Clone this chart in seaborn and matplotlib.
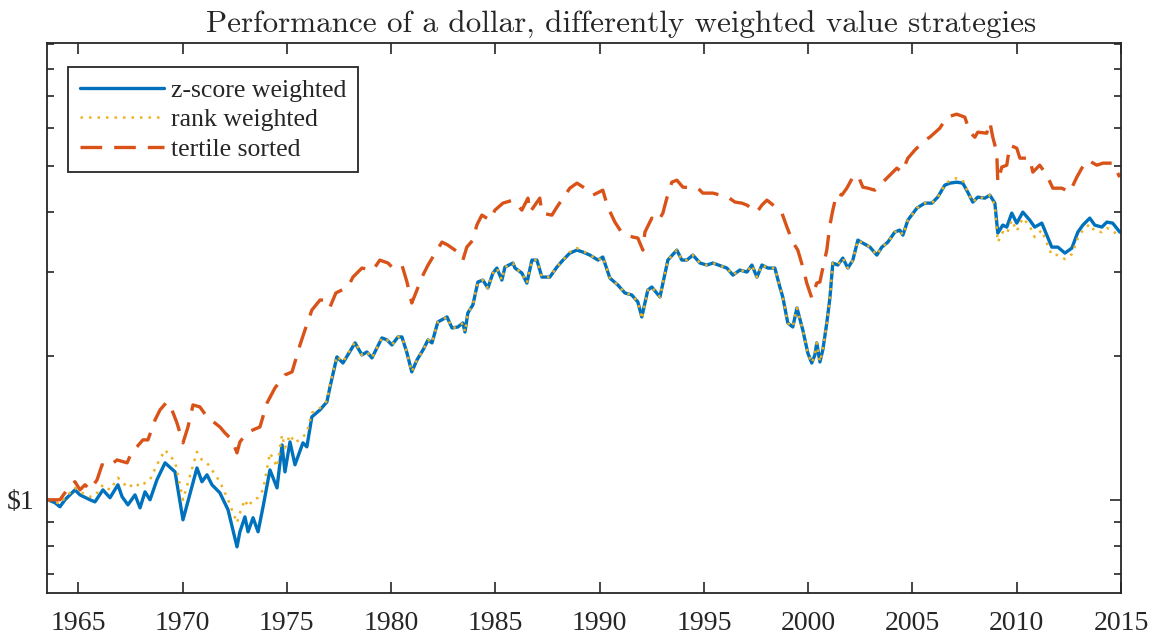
import numpy as np
import matplotlib
matplotlib.use('Agg')
import matplotlib.pyplot as plt
import seaborn as sns
from matplotlib.ticker import LogLocator, NullFormatter, NullLocator

# growth of $1 (log scale)
years = [
    1963.55, 1963.88, 1964.12, 1964.36, 1964.84, 1965.08, 1965.56, 1965.80, 1966.18, 1966.52,
    1966.90, 1967.10, 1967.38, 1967.72, 1967.96, 1968.20, 1968.44, 1968.77, 1969.16, 1969.64,
    1970.02, 1970.69, 1970.93, 1971.17, 1971.41, 1971.79, 1972.18, 1972.61, 1972.75, 1972.99,
    1973.14, 1973.38, 1973.62, 1973.86, 1974.19, 1974.53, 1974.77, 1974.91, 1975.15, 1975.39,
    1975.77, 1975.96, 1976.20, 1976.59, 1976.92, 1977.07, 1977.40, 1977.69, 1978.27, 1978.60,
    1978.84, 1979.08, 1979.56, 1979.80, 1980.04, 1980.33, 1980.52, 1980.76, 1980.99, 1981.24,
    1981.53, 1981.77, 1981.96, 1982.24, 1982.68, 1982.92, 1983.20, 1983.44, 1983.54, 1983.68,
    1983.92, 1984.16, 1984.40, 1984.64, 1984.88, 1985.07, 1985.31, 1985.46, 1985.84, 1985.94,
    1986.27, 1986.51, 1986.75, 1986.99, 1987.23, 1987.61, 1987.95, 1988.24, 1988.57, 1988.91,
    1989.20, 1989.53, 1989.92, 1990.15, 1990.49, 1990.87, 1991.21, 1991.54, 1991.83, 1992.02,
    1992.31, 1992.50, 1992.89, 1993.27, 1993.70, 1993.94, 1994.18, 1994.47, 1994.81, 1995.14,
    1995.43, 1996.10, 1996.39, 1996.72, 1997.06, 1997.30, 1997.54, 1997.78, 1998.07, 1998.40,
    1998.64, 1998.78, 1999.02, 1999.26, 1999.46, 1999.74, 1999.98, 2000.17, 2000.32, 2000.41,
    2000.56, 2000.70, 2000.89, 2001.04, 2001.18, 2001.42, 2001.66, 2001.90, 2002.14, 2002.38,
    2002.62, 2002.96, 2003.29, 2003.53, 2003.82, 2004.15, 2004.39, 2004.54, 2004.78, 2005.21,
    2005.59, 2005.93, 2006.21, 2006.55, 2006.79, 2007.12, 2007.41, 2007.65, 2007.89, 2008.13,
    2008.47, 2008.71, 2008.95, 2009.09, 2009.33, 2009.52, 2009.76, 2010.00, 2010.29, 2010.62,
    2010.86, 2011.20, 2011.44, 2011.68, 2011.97, 2012.31, 2012.64, 2012.93, 2013.17, 2013.50,
    2013.74, 2014.08, 2014.32, 2014.60, 2014.94,
]

z_score = [
    1.000, 0.986, 0.967, 1.000, 1.049, 1.024, 1.000, 0.990, 1.049, 1.010,
    1.075, 1.015, 0.976, 1.024, 0.962, 1.039, 1.000, 1.101, 1.195, 1.144,
    0.908, 1.166, 1.091, 1.128, 1.075, 1.034, 0.953, 0.797, 0.857, 0.921,
    0.857, 0.917, 0.857, 0.967, 1.155, 1.059, 1.303, 1.144, 1.322, 1.184,
    1.316, 1.291, 1.492, 1.543, 1.603, 1.723, 1.992, 1.934, 2.131, 2.011,
    2.040, 1.982, 2.183, 2.162, 2.110, 2.193, 2.193, 2.030, 1.853, 1.963,
    2.060, 2.162, 2.131, 2.357, 2.415, 2.290, 2.301, 2.346, 2.246, 2.462,
    2.559, 2.858, 2.885, 2.777, 2.984, 3.057, 2.885, 3.072, 3.132, 3.057,
    2.984, 2.844, 3.177, 3.177, 2.927, 2.927, 3.072, 3.177, 3.286, 3.334,
    3.302, 3.255, 3.177, 3.224, 2.913, 2.818, 2.711, 2.685, 2.596, 2.415,
    2.750, 2.790, 2.659, 3.177, 3.334, 3.177, 3.177, 3.255, 3.132, 3.102,
    3.132, 3.057, 2.955, 3.028, 2.999, 3.102, 2.927, 3.102, 3.057, 3.057,
    2.790, 2.659, 2.346, 2.301, 2.522, 2.268, 2.030, 1.934, 2.011, 2.131,
    1.944, 2.060, 2.346, 2.647, 3.132, 3.102, 3.208, 3.057, 3.177, 3.498,
    3.448, 3.382, 3.255, 3.382, 3.465, 3.636, 3.671, 3.584, 3.853, 4.082,
    4.181, 4.181, 4.304, 4.560, 4.604, 4.626, 4.604, 4.409, 4.202, 4.304,
    4.283, 4.346, 4.181, 3.619, 3.761, 3.725, 3.985, 3.797, 4.004, 3.853,
    3.725, 3.797, 3.584, 3.382, 3.382, 3.286, 3.366, 3.636, 3.761, 3.890,
    3.761, 3.725, 3.816, 3.797, 3.636,
]

rank_weighted = [
    1.000, 0.990, 0.981, 1.010, 1.059, 1.039, 1.015, 1.019, 1.075, 1.049,
    1.112, 1.091, 1.059, 1.085, 1.065, 1.085, 1.101, 1.184, 1.272, 1.201,
    1.000, 1.260, 1.212, 1.195, 1.155, 1.091, 1.000, 0.895, 0.939, 1.000,
    0.967, 1.000, 1.010, 1.049, 1.254, 1.172, 1.368, 1.285, 1.368, 1.316,
    1.355, 1.381, 1.521, 1.557, 1.611, 1.740, 2.001, 1.944, 2.141, 2.011,
    2.040, 1.982, 2.183, 2.162, 2.110, 2.193, 2.193, 2.030, 1.853, 1.963,
    2.060, 2.162, 2.131, 2.357, 2.415, 2.290, 2.301, 2.346, 2.246, 2.462,
    2.559, 2.858, 2.885, 2.777, 2.984, 3.057, 2.885, 3.072, 3.132, 3.057,
    2.984, 2.844, 3.177, 3.177, 2.927, 2.927, 3.072, 3.177, 3.302, 3.366,
    3.318, 3.255, 3.177, 3.224, 2.913, 2.818, 2.711, 2.685, 2.596, 2.391,
    2.750, 2.790, 2.659, 3.177, 3.334, 3.177, 3.177, 3.255, 3.132, 3.102,
    3.132, 3.057, 2.955, 3.028, 2.999, 3.102, 2.927, 3.102, 3.057, 3.057,
    2.790, 2.659, 2.346, 2.301, 2.522, 2.268, 2.030, 1.934, 2.011, 2.131,
    1.944, 2.060, 2.346, 2.647, 3.132, 3.102, 3.208, 3.057, 3.177, 3.498,
    3.448, 3.382, 3.255, 3.382, 3.465, 3.636, 3.671, 3.584, 3.853, 4.082,
    4.181, 4.181, 4.304, 4.560, 4.671, 4.716, 4.671, 4.409, 4.202, 4.304,
    4.283, 4.346, 4.142, 3.465, 3.636, 3.601, 3.853, 3.654, 3.890, 3.743,
    3.549, 3.671, 3.448, 3.255, 3.255, 3.193, 3.270, 3.533, 3.671, 3.779,
    3.654, 3.636, 3.707, 3.671, 3.533,
]

tert_years = [
    1963.55, 1964.12, 1964.46, 1964.84, 1965.08, 1965.32, 1965.56, 1965.90, 1966.14, 1966.42,
    1966.86, 1967.34, 1967.57, 1967.81, 1968.10, 1968.34, 1968.68, 1968.92, 1969.25, 1969.49,
    1969.73, 1970.02, 1970.26, 1970.50, 1970.83, 1971.17, 1971.79, 1972.03, 1972.37, 1972.61,
    1972.75, 1973.09, 1973.38, 1973.71, 1974.05, 1974.43, 1974.91, 1975.25, 1975.63, 1975.87,
    1976.20, 1976.59, 1976.92, 1977.07, 1977.35, 1977.93, 1978.17, 1978.60, 1979.13, 1979.46,
    1979.85, 1980.04, 1980.52, 1980.76, 1980.99, 1981.24, 1981.48, 1981.77, 1982.20, 1982.44,
    1982.72, 1983.20, 1983.44, 1983.63, 1983.92, 1984.11, 1984.35, 1984.74, 1984.98, 1985.36,
    1985.84, 1986.27, 1986.56, 1986.66, 1987.13, 1987.23, 1987.71, 1987.95, 1988.24, 1988.57,
    1988.91, 1989.44, 1989.68, 1990.15, 1990.39, 1990.73, 1991.07, 1991.60, 1991.83, 1992.07,
    1992.17, 1992.50, 1992.79, 1993.03, 1993.22, 1993.46, 1993.70, 1993.99, 1994.71, 1994.95,
    1995.43, 1996.15, 1996.49, 1996.82, 1997.06, 1997.54, 1997.78, 1998.02, 1998.50, 1998.74,
    1998.98, 1999.26, 1999.50, 1999.74, 1999.93, 2000.17, 2000.41, 2000.56, 2000.70, 2000.89,
    2001.04, 2001.18, 2001.37, 2001.61, 2001.85, 2002.14, 2002.38, 2002.62, 2002.86, 2003.19,
    2003.53, 2004.01, 2004.25, 2004.49, 2004.78, 2005.11, 2005.59, 2005.83, 2006.31, 2006.65,
    2007.12, 2007.51, 2007.75, 2007.99, 2008.13, 2008.56, 2008.71, 2008.85, 2009.04, 2009.09,
    2009.28, 2009.52, 2009.67, 2010.00, 2010.15, 2010.62, 2010.77, 2011.10, 2011.44, 2011.73,
    2012.16, 2012.54, 2012.88, 2013.12, 2013.41, 2013.84, 2014.13, 2014.60, 2014.94,
]

tertile = [
    1.000, 1.000, 1.049, 1.091, 1.049, 1.075, 1.049, 1.101, 1.184, 1.172,
    1.212, 1.195, 1.260, 1.291, 1.335, 1.335, 1.470, 1.543, 1.603, 1.543,
    1.449, 1.316, 1.421, 1.580, 1.565, 1.492, 1.421, 1.381, 1.335, 1.254,
    1.322, 1.381, 1.401, 1.421, 1.595, 1.715, 1.826, 1.853, 2.110, 2.268,
    2.497, 2.620, 2.620, 2.534, 2.711, 2.790, 2.927, 3.057, 3.028, 3.177,
    3.132, 3.072, 3.102, 2.858, 2.583, 2.750, 2.927, 3.102, 3.334, 3.465,
    3.415, 3.302, 3.177, 3.382, 3.498, 3.761, 3.946, 3.853, 4.043, 4.181,
    4.242, 4.043, 4.283, 4.004, 4.283, 3.985, 3.946, 4.102, 4.283, 4.494,
    4.604, 4.451, 4.346, 4.451, 4.102, 3.816, 3.619, 3.549, 3.533, 3.334,
    3.636, 3.890, 3.816, 3.985, 4.283, 4.626, 4.671, 4.516, 4.494, 4.388,
    4.388, 4.304, 4.202, 4.181, 4.142, 4.004, 4.142, 4.242, 4.082, 3.985,
    3.725, 3.465, 3.334, 3.072, 2.844, 2.647, 2.844, 2.858, 3.057, 3.334,
    3.761, 4.043, 4.388, 4.346, 4.494, 4.739, 4.785, 4.516, 4.494, 4.451,
    4.604, 4.831, 4.950, 4.855, 5.194, 5.398, 5.664, 5.746, 6.001, 6.329,
    6.421, 6.329, 5.887, 5.746, 5.887, 5.858, 6.178, 5.746, 5.346, 4.626,
    4.974, 5.021, 5.529, 5.450, 5.194, 5.194, 4.855, 5.021, 4.785, 4.494,
    4.494, 4.409, 4.739, 4.950, 5.144, 5.021, 5.070, 5.070, 4.739,
]

x_ticks = [1965, 1970, 1975, 1980, 1985, 1990, 1995, 2000, 2005, 2010, 2015]

assert len(years) == len(z_score) == len(rank_weighted)
assert len(tert_years) == len(tertile)

sns.set_style('ticks')
plt.rcParams['font.family'] = ['Liberation Serif', 'DejaVu Serif']
plt.rcParams['axes.edgecolor'] = '#262626'

fig = plt.figure(figsize=(11.55, 6.39), dpi=100)
ax = fig.add_axes([0.0407, 0.072, 0.9299, 0.8607])

sns.lineplot(x=years, y=z_score, color='#0072BD', lw=2.4, label='z-score weighted',
             estimator=None, sort=False, ax=ax)
sns.lineplot(x=years, y=rank_weighted, color='#EDB120', lw=1.8, linestyle=(0, (1, 2.4)),
             label='rank weighted', estimator=None, sort=False, ax=ax)
sns.lineplot(x=tert_years, y=tertile, color='#D95319', lw=2.4, linestyle=(0, (6.5, 3.6)),
             label='tertile sorted', estimator=None, sort=False, ax=ax)

ax.set_yscale('log')
ax.set_xlim(1963.5, 2015)
ax.set_ylim(0.638, 9.05)
ax.set_xticks(x_ticks)
ax.xaxis.set_minor_locator(NullLocator())
ax.set_yticks([1], labels=[r'\$1'])
ax.yaxis.set_minor_locator(LogLocator(base=10, subs=np.arange(2, 10)))
ax.yaxis.set_minor_formatter(NullFormatter())
ax.set_xlabel('')
ax.set_ylabel('')

ax.tick_params(which='both', direction='in', top=True, right=True, color='#262626', width=1.2)
ax.tick_params(which='major', length=8, labelsize=20)
ax.tick_params(axis='x', which='major', pad=13)
ax.tick_params(axis='y', which='major', pad=9)
ax.tick_params(which='minor', length=5)
for s in ax.spines.values():
    s.set_linewidth(1.3)
    s.set_color('#262626')

ax.set_title('Performance of a dollar, differently weighted value strategies',
             fontfamily='cmr10', fontsize=22.4, x=0.5345, pad=7)

leg = ax.legend(loc='upper left', bbox_to_anchor=(0.0196, 0.956), borderaxespad=0,
                fontsize=18.5, handlelength=3.3, handletextpad=0.25, borderpad=0.45,
                labelspacing=0.25, frameon=True, fancybox=False, edgecolor='#262626',
                framealpha=1)
leg.get_frame().set_linewidth(1.3)

fig.savefig('out.png', dpi=100)
